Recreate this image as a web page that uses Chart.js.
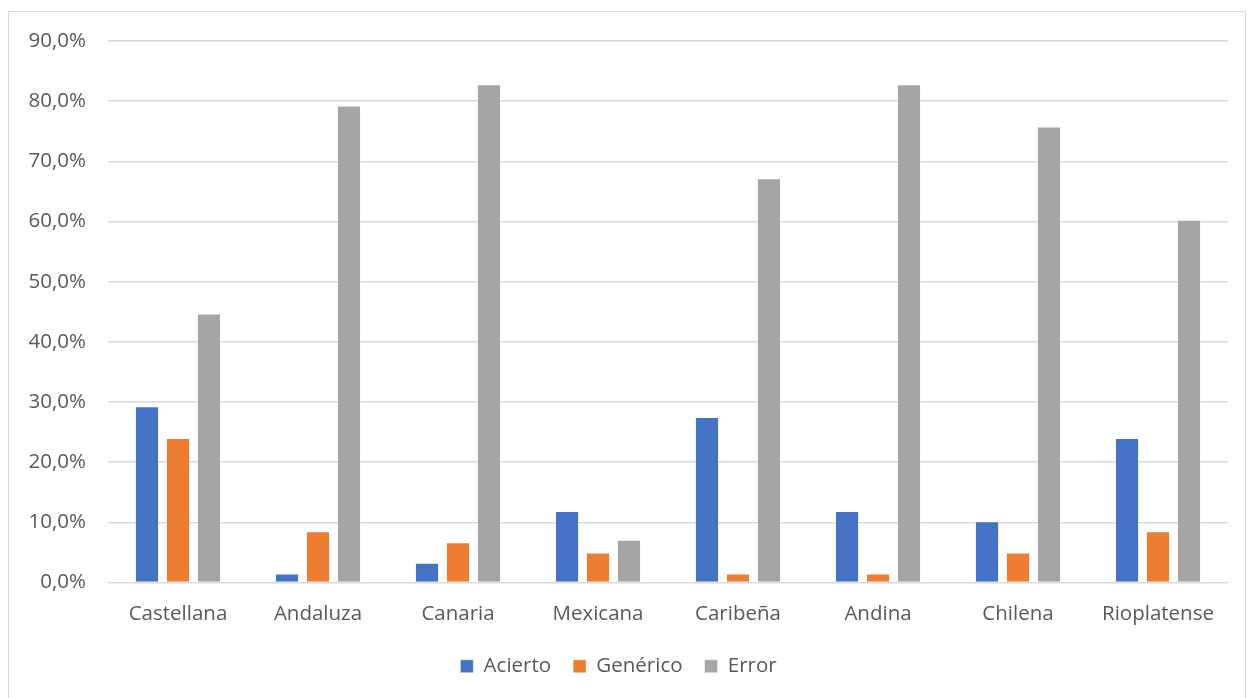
<!DOCTYPE html>
<html>
<head>
    <meta charset="utf-8">
    <title>Acierto / Genérico / Error</title>
    <script src="https://cdn.jsdelivr.net/npm/chart.js"></script>
    <style>
        body { margin: 0; background: #fff; }
        #box {
            position: absolute; left: 8px; top: 11px;
            width: 1238px; height: 700px;
            border: 1px solid #d9d9d9; box-sizing: border-box;
        }
    </style>
</head>
<body>
    <div id="box"><canvas id="myChart"></canvas></div>
    <script>
        const categories = ['Castellana', 'Andaluza', 'Canaria', 'Mexicana', 'Caribeña', 'Andina', 'Chilena', 'Rioplatense'];
        const acierto  = [29.3, 1.5, 3.3, 11.9, 27.5, 11.9, 10.2, 24.0];
        const generico = [24.0, 8.5, 6.7, 5.0, 1.5, 1.5, 5.0, 8.5];
        const error    = [44.7, 79.3, 82.8, 7.1, 67.2, 82.8, 75.8, 60.3];
        const yTicks = [0, 10, 20, 30, 40, 50, 60, 70, 80, 90];

        const font = { family: "'Open Sans', 'Liberation Sans', sans-serif", size: 20.5 };
        const canvas = document.getElementById('myChart');
        canvas.width = 1236;
        canvas.height = 686;
        canvas.style.width = '1236px';
        canvas.style.height = '686px';

        function fmt(v) {
            return v.toFixed(1).replace('.', ',') + '%';
        }

        new Chart(canvas.getContext('2d'), {
            type: 'bar',
            data: {
                labels: categories,
                datasets: [
                    { label: 'Acierto', data: acierto, backgroundColor: '#4472c4', borderColor: 'rgba(255,255,255,0.5)', borderWidth: 1 },
                    { label: 'Genérico', data: generico, backgroundColor: '#ed7d31', borderColor: 'rgba(255,255,255,0.5)', borderWidth: 1 },
                    { label: 'Error', data: error, backgroundColor: '#a5a5a5', borderColor: 'rgba(255,255,255,0.5)', borderWidth: 1 }
                ]
            },
            options: {
                responsive: false,
                animation: false,
                categoryPercentage: 0.664,
                barPercentage: 0.78,
                layout: { padding: { top: 29, right: 17, bottom: 11.5, left: 0 } },
                plugins: {
                    tooltip: { enabled: false },
                    legend: {
                        position: 'bottom',
                        labels: {
                            color: '#595959', font: font,
                            boxWidth: 13, boxHeight: 13, padding: 22
                        }
                    }
                },
                scales: {
                    x: {
                        grid: { display: false },
                        border: { display: false },
                        ticks: { color: '#595959', font: font, padding: 11.5, maxRotation: 0 },
                        afterFit: s => { s.height = 51.5; }
                    },
                    y: {
                        min: 0,
                        max: 90,
                        afterBuildTicks: s => { s.ticks = yTicks.map(v => ({ value: v })); },
                        afterFit: s => { s.width = 99; s.paddingTop = 0; s.paddingBottom = 0; },
                        grid: { color: '#d9d9d9', lineWidth: 1.5, drawTicks: false },
                        border: { display: false },
                        ticks: { color: '#595959', font: font, padding: 22, callback: v => fmt(v) }
                    }
                }
            }
        });
    </script>
</body>
</html>
